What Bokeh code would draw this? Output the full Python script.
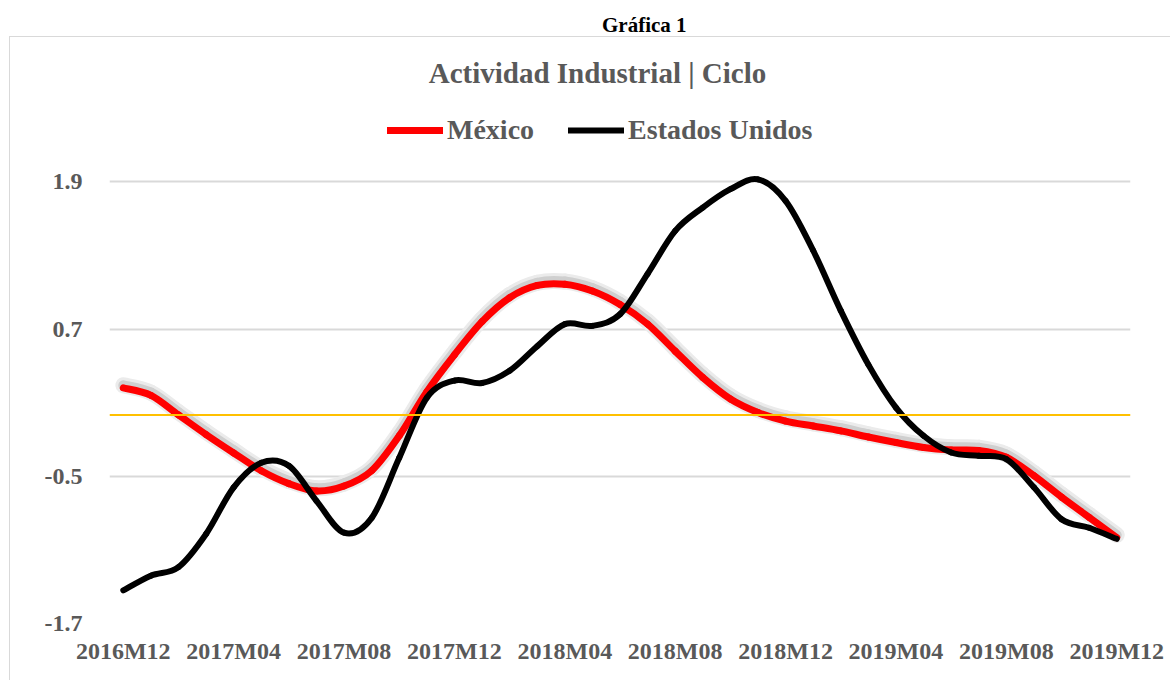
from bokeh.plotting import figure
from bokeh.models import Range1d, FixedTicker, Span, Legend, LegendItem, Label, Div
from bokeh.layouts import column
from bokeh.embed import file_html
from bokeh.resources import INLINE

# ---- data ----
months = [f"{2016 + (11 + i) // 12}M{(11 + i) % 12 + 1:02d}" for i in range(37)]
tick_labels = ["2016M12", "2017M04", "2017M08", "2017M12", "2018M04",
               "2018M08", "2018M12", "2019M04", "2019M08", "2019M12"]
mexico = [0.22, 0.16, 0.0, -0.16, -0.31, -0.455, -0.56, -0.62, -0.58, -0.455,
          -0.17, 0.19, 0.49, 0.76, 0.955, 1.055, 1.065, 1.01, 0.90, 0.74,
          0.52, 0.305, 0.13, 0.02, -0.05, -0.09, -0.13, -0.18, -0.225, -0.265,
          -0.285, -0.29, -0.345, -0.495, -0.67, -0.835, -1.0]
usa = [-1.43, -1.31, -1.24, -0.97, -0.59, -0.39, -0.415, -0.70, -0.96, -0.84,
       -0.35, 0.14, 0.28, 0.26, 0.36, 0.56, 0.74, 0.726, 0.82, 1.15,
       1.50, 1.69, 1.84, 1.92, 1.745, 1.34, 0.85, 0.41, 0.06, -0.17,
       -0.306, -0.333, -0.36, -0.59, -0.85, -0.92, -1.01]
y_ticks = [-1.7, -0.5, 0.7, 1.9]
y_tick_labels = ["-1.7", "-0.5", "0.7", "1.9"]

x = list(range(len(months)))
tick_pos = [months.index(t) for t in tick_labels]

FONT = "Liberation Serif"
GRAY = "#595959"


def smooth_segments(xs, ys):
    """Bezier control points for a smoothed line through the given points."""
    n = len(xs)
    out = {k: [] for k in ("x0", "y0", "x1", "y1", "cx0", "cy0", "cx1", "cy1")}
    for i in range(n - 1):
        a = max(i - 1, 0)
        b = min(i + 2, n - 1)
        out["x0"].append(xs[i]); out["y0"].append(ys[i])
        out["x1"].append(xs[i + 1]); out["y1"].append(ys[i + 1])
        out["cx0"].append(xs[i] + (xs[i + 1] - xs[a]) / 6)
        out["cy0"].append(ys[i] + (ys[i + 1] - ys[a]) / 6)
        out["cx1"].append(xs[i + 1] - (xs[b] - xs[i]) / 6)
        out["cy1"].append(ys[i + 1] - (ys[b] - ys[i]) / 6)
    return out


header = Div(
    text=('<div style="position:relative;left:602px;top:13px;'
          'font-family:\'Liberation Serif\';font-weight:bold;font-size:21px;'
          'line-height:24px;color:#000;white-space:nowrap;">Gráfica 1</div>'),
    width=1172, height=36, margin=0)

Y0, Y1 = -1.7, 3.076
p = figure(width=1161, height=644, output_backend="svg", toolbar_location=None,
           x_range=Range1d(-0.5, 36.5), y_range=Range1d(Y0, Y1),
           min_border_left=99, min_border_right=41, min_border_top=0,
           min_border_bottom=58, margin=(0, 0, 0, 9),
           styles={"border-top": "1px solid #d9d9d9",
                   "border-left": "1px solid #d9d9d9"})
p.outline_line_color = None
p.background_fill_color = "white"
p.border_fill_color = "white"

shift = 0.022
p.extra_y_ranges = {"shadow": Range1d(Y0 - shift, Y1 - shift)}

# axes
p.xaxis.ticker = FixedTicker(ticks=tick_pos)
p.xaxis.major_label_overrides = {i: months[i] for i in tick_pos}
p.yaxis.ticker = FixedTicker(ticks=y_ticks)
p.yaxis.major_label_overrides = dict(zip(y_ticks, y_tick_labels))
for ax in (p.xaxis[0], p.yaxis[0]):
    ax.axis_line_color = None
    ax.major_tick_line_color = None
    ax.minor_tick_line_color = None
    ax.major_tick_out = 0
    ax.major_tick_in = 0
    ax.major_label_text_font = FONT
    ax.major_label_text_font_style = "bold"
    ax.major_label_text_font_size = "24px"
    ax.major_label_text_color = GRAY
p.xaxis.major_label_standoff = 14
p.yaxis.major_label_standoff = 27
p.xgrid.grid_line_color = None
p.ygrid.grid_line_color = "#d9d9d9"
p.ygrid.grid_line_width = 2

p.add_layout(Span(location=0, dimension="width", line_color="#FFC000", line_width=2))

mx_seg = smooth_segments(x, mexico)
us_seg = smooth_segments(x, usa)

# soft shadow of the Mexico line
p.bezier(source=mx_seg, x0="x0", y0="y0", x1="x1", y1="y1", cx0="cx0", cy0="cy0",
         cx1="cx1", cy1="cy1", y_range_name="shadow", line_color="#ebebeb",
         line_width=16, line_cap="round")
p.bezier(source=mx_seg, x0="x0", y0="y0", x1="x1", y1="y1", cx0="cx0", cy0="cy0",
         cx1="cx1", cy1="cy1", y_range_name="shadow", line_color="#cfcfcf",
         line_width=10, line_cap="round")

r_mx = p.bezier(source=mx_seg, x0="x0", y0="y0", x1="x1", y1="y1", cx0="cx0",
                cy0="cy0", cx1="cx1", cy1="cy1", line_color="#FF0000",
                line_width=7, line_cap="round")
r_us = p.bezier(source=us_seg, x0="x0", y0="y0", x1="x1", y1="y1", cx0="cx0",
                cy0="cy0", cx1="cx1", cy1="cy1", line_color="black",
                line_width=6, line_cap="round")

legend = Legend(items=[LegendItem(label="México", renderers=[r_mx]),
                       LegendItem(label="Estados Unidos", renderers=[r_us])],
                orientation="horizontal", location=(278, 477),
                glyph_width=56, glyph_height=32, label_standoff=4, spacing=34,
                padding=0, margin=0, border_line_color=None,
                background_fill_alpha=0,
                label_text_font=FONT, label_text_font_style="bold",
                label_text_font_size="28px", label_text_color=GRAY)
p.add_layout(legend)

p.add_layout(Label(x=488, y=551, x_units="screen", y_units="screen",
                   text="Actividad Industrial | Ciclo", text_align="center",
                   text_baseline="middle", text_font=FONT,
                   text_font_style="bold", text_font_size="29px",
                   text_color=GRAY))

layout = column(header, p, spacing=0, margin=0)
open("out.html", "w").write(file_html(layout, INLINE))
